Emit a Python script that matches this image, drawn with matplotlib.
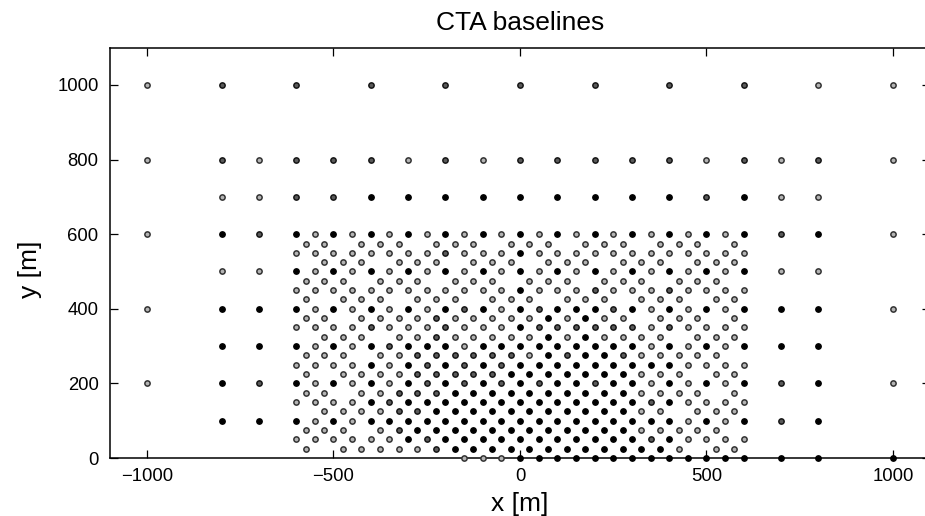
import matplotlib.pyplot as plt

plt.rcParams["font.family"] = ["Liberation Sans", "DejaVu Sans"]

# lattice columns of the dense core (m)
even_cols = [-600, -550, -500, -450, -400, -350, -300, -250, -200, -150, -100, -50,
             0, 50, 100, 150, 200, 250, 300, 350, 400, 450, 500, 550, 600]
odd_cols = [-575, -525, -475, -425, -375, -325, -275, -225, -175, -125, -75, -25,
            25, 75, 125, 175, 225, 275, 325, 375, 425, 475, 525, 575]

# one string per row: '.' nothing, 'o' faint, 'x' medium, 'O' heavy overlap
core_y = [600, 575, 550, 525, 500, 475, 450, 425, 400, 375, 350, 325, 300,
          275, 250, 225, 200, 175, 150, 125, 100, 75, 50, 25, 0]
core_rows = [
    "OoOoOoOoOoOoOoOoOoOoOoOoO",  # 600
    "oo.ooo.ooo.ooo.ooo.ooo.o",   # 575
    "ooooooooxoooOoooooooooooo",  # 550
    ".ooo.ooo.ooo.ooo.ooo.ooo",   # 525
    "OoOoOoOoOoOoOoOoOoOoOoOoO",  # 500
    "ooo.ooo.ooo.ooo.ooo.ooo.",   # 475
    "ooooooooooooOoooxoooxoooo",  # 450
    "o.ooo.ooo.ooo.ooo.ooo.oo",   # 425
    "OoOoOoOoOxOoOxOOOxOoOoOoO",  # 400
    "oo.ooooxoooooOoOoo.ooo.o",   # 375
    "ooooxoooxoooOxxxxxxoxoooo",  # 350
    ".ooo.ooxoooooOoOoooo.ooo",   # 325
    "OoOoOxOOOoOOOOOOOOOoOoOoO",  # 300
    "ooo.ooxxxxxxoOxOOxooooo.",   # 275
    "ooooOoOxOxOxOOOOOOOOOoooo",  # 250
    "o.ooooxxxxxOOOOOOOooo.oo",   # 225
    "OoOoOoOxOxOxOxOOxOOoOoOoO",  # 200
    "oo.ooxxxOOOOOOOOOOoooo.o",   # 175
    "ooooOxOOOOOOOOOOOOOxOoooo",  # 150
    ".ooooxxOOOOOOOOOOOoo.ooo",   # 125
    "OoOoOOOOOOOOOOOOOOOOOoOoO",  # 100
    "ooo.oxOOOOOOOOOOOOooooo.",   # 75
    "ooooooOxOOOOOOOOOOOxOoooo",  # 50
    "o.oooooxOOOOOOOOOOOOo.oo",   # 25
    ".........oooOOOOOOOOOOOOO",  # 0
]

# sparse baselines outside the core
outer_y = [1000, 800, 700, 600, 500, 400, 300, 200, 100, 0]
outer_x = [
    [-1000, -800, -600, -400, -200, 0, 200, 400, 600, 800, 1000],
    [-1000, -800, -700, -600, -500, -400, -300, -200, -100, 0, 100, 200, 300,
     400, 500, 600, 700, 800, 1000],
    [-800, -700, -600, -500, -400, -300, -200, -100, 0, 100, 200, 300, 400,
     500, 600, 700, 800],
    [-1000, -800, -700, 700, 800, 1000],
    [-800, -700, 700, 800],
    [-1000, -800, -700, 700, 800, 1000],
    [-800, -700, 700, 800],
    [-1000, -800, -700, 700, 800, 1000],
    [-800, -700, 700, 800],
    [700, 800, 1000],
]
outer_lvl = [
    "oxxxxxxxxoo",
    "oxoxxxoxoxxxxxoxoxo",
    "ooxxOOOOOOOOOxOoo",
    "oOxxOo",
    "oooo",
    "oOOOOo",
    "OOOO",
    "oOxxOo",
    "OOxO",
    "OOO",
]

pts = {"o": ([], []), "x": ([], []), "O": ([], [])}
for y, row in zip(core_y, core_rows):
    cols = even_cols if y % 50 == 0 else odd_cols
    for x, c in zip(cols, row):
        if c in pts:
            pts[c][0].append(x)
            pts[c][1].append(y)
for y, xs, lv in zip(outer_y, outer_x, outer_lvl):
    for x, c in zip(xs, lv):
        pts[c][0].append(x)
        pts[c][1].append(y)

styles = {
    "o": dict(markerfacecolor="#b4b4b4", markeredgecolor="#333333"),
    "x": dict(markerfacecolor="#5a5a5a", markeredgecolor="#151515"),
    "O": dict(markerfacecolor="#000000", markeredgecolor="#000000"),
}

fig = plt.figure(figsize=(9.25, 5.16), dpi=100)
ax = fig.add_axes([0.1186, 0.1124, 0.8871, 0.7952])

for lvl in ["o", "x", "O"]:
    xs, ys = pts[lvl]
    ax.plot(xs, ys, "o", linestyle="none", markersize=3.8, markeredgewidth=1.1,
            clip_on=False, zorder=3, **styles[lvl])

ax.set_xlim(-1100, 1100)
ax.set_ylim(0, 1100)
ax.set_xticks([-1000, -500, 0, 500, 1000])
ax.set_yticks([0, 200, 400, 600, 800, 1000])
ax.tick_params(direction="in", top=True, right=True, length=5.8, width=0.9,
               labelsize=13.3)
ax.tick_params(axis="x", pad=7)
ax.tick_params(axis="y", pad=8)
for s in ax.spines.values():
    s.set_linewidth(1.1)

ax.set_title("CTA baselines", fontsize=19, pad=13)
ax.set_xlabel("x [m]", fontsize=19)
ax.set_ylabel("y [m]", fontsize=19)
ax.xaxis.set_label_coords(0.5, -0.083)
ax.yaxis.set_label_coords(-0.082, 0.46)

fig.savefig("out.png", dpi=100)
